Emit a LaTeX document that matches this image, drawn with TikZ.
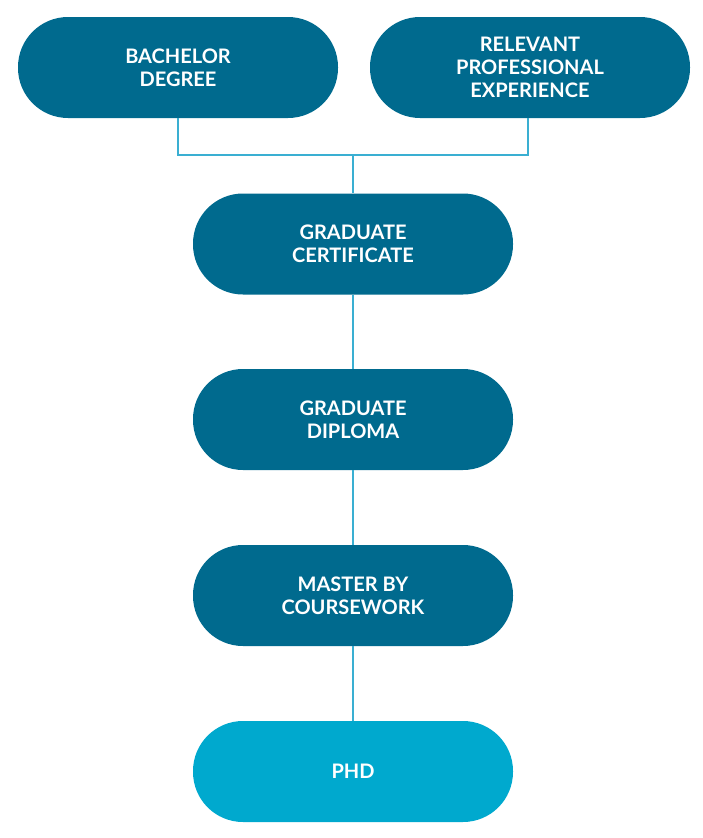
\documentclass[tikz,border=0pt]{standalone}
\usepackage{fontspec}
\setmainfont{Lato}
\begin{document}
\begin{tikzpicture}[x=1pt,y=-1pt,
  pill/.style={rounded corners=50pt,minimum width=320pt,minimum height=101pt,fill=dark,text=white,font=\bfseries\fontsize{20}{23}\selectfont,align=center,inner sep=0pt},
  conn/.style={draw=lineblue,line width=1.3pt}]
\definecolor{dark}{HTML}{006A8E}
\definecolor{light}{HTML}{00A9CE}
\definecolor{lineblue}{HTML}{3AAFD2}
\useasboundingbox (0,0) rectangle (702,838);
\coordinate (jl) at (178,155);
\coordinate (jr) at (528,155);
\coordinate (jm) at (353,155);
\node[pill] (b) at (178,67.5) {BACHELOR\\DEGREE};
\node[pill] (r) at (530,67.5) {RELEVANT\\PROFESSIONAL\\EXPERIENCE};
\node[pill] (gc) at (353,244) {GRADUATE\\CERTIFICATE};
\node[pill] (gd) at (353,419.5) {GRADUATE\\DIPLOMA};
\node[pill] (m) at (353,595.5) {MASTER BY\\COURSEWORK};
\node[pill,fill=light] (p) at (353,771.5) {PHD};
\draw[conn] (b.south -| jl) -- (jl) -- (jr) -- (r.south -| jr);
\draw[conn] (jm) -- (gc);
\draw[conn] (gc) -- (gd);
\draw[conn] (gd) -- (m);
\draw[conn] (m) -- (p);
\end{tikzpicture}
\end{document}
